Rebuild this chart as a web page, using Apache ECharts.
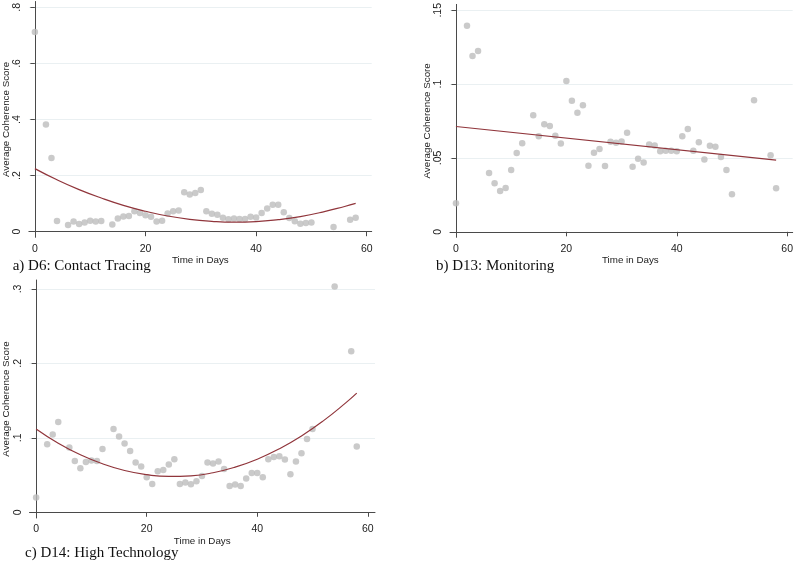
<!DOCTYPE html>
<html><head><meta charset="utf-8">
<script src="https://cdn.jsdelivr.net/npm/echarts@6/dist/echarts.min.js"></script>
<style>html,body{margin:0;padding:0;background:#fff}#c{width:796px;height:563px}</style>
</head><body><div id="c"></div>
<script>
// ---- data ----
const days = [0,2,3,4,6,7,8,9,10,11,12,14,15,16,17,18,19,20,21,22,23,24,25,26,27,28,29,30,31,32,33,34,35,36,37,38,39,40,41,42,43,44,45,46,47,48,49,50,54,57,58];

const contactTracing = [0.712,0.382,0.263,0.038,0.024,0.036,0.027,0.033,0.039,0.036,0.038,0.026,0.047,0.054,0.056,0.073,0.067,0.059,0.053,0.036,0.039,0.065,0.073,0.076,0.141,0.133,0.138,0.149,0.073,0.064,0.060,0.050,0.044,0.047,0.045,0.045,0.053,0.051,0.067,0.083,0.096,0.096,0.069,0.049,0.037,0.028,0.031,0.033,0.017,0.043,0.050];

const monitoring = [0.0193,0.1396,0.119,0.1225,0.0399,0.0328,0.0277,0.0297,0.0419,0.0534,0.060,0.0789,0.0647,0.0729,0.0716,0.0651,0.0598,0.1021,0.0888,0.0806,0.0857,0.0447,0.0536,0.0560,0.0445,0.0609,0.0603,0.0611,0.0671,0.0441,0.0494,0.047,0.0591,0.0585,0.0545,0.0549,0.0549,0.0545,0.0647,0.0696,0.0549,0.0607,0.049,0.0583,0.0576,0.0507,0.0419,0.0255,0.0891,0.0518,0.0295];

const highTech = [0.0197,0.0914,0.1043,0.1214,0.0869,0.069,0.0591,0.0676,0.0694,0.069,0.0851,0.112,0.1017,0.0923,0.0824,0.0667,0.0614,0.047,0.0381,0.0551,0.0569,0.064,0.0712,0.0381,0.0399,0.0376,0.0416,0.0488,0.0667,0.0654,0.0681,0.0582,0.0354,0.0372,0.0354,0.0452,0.0528,0.0528,0.047,0.0712,0.0743,0.0752,0.0708,0.0511,0.0681,0.0793,0.0985,0.112,0.3032,0.2163,0.0882];

// fitted curves
const fitDaysQ = [0,4,8,12,16,20,24,28,32,36,40,44,48,52,56,58];
const fitContactTracing = [0.225,0.185,0.150,0.120,0.094,0.073,0.056,0.044,0.037,0.034,0.036,0.043,0.054,0.070,0.090,0.101];
const fitHighTech = [0.112,0.0928,0.0773,0.0651,0.0561,0.0505,0.0481,0.0490,0.0531,0.0606,0.0713,0.0853,0.1025,0.1231,0.1469,0.160];
const fitDaysL = [0,58];
const fitMonitoring = [0.0713,0.0485];

// tick values / labels
const xTicks = [0,20,40,60];
const xTickLabels = ['0','20','40','60'];
const yTicksA = [0,0.2,0.4,0.6,0.8];
const yTickLabelsA = ['0','.2','.4','.6','.8'];
const yTicksB = [0,0.05,0.1,0.15];
const yTickLabelsB = ['0','.05','.1','.15'];
const yTicksC = [0,0.1,0.2,0.3];
const yTickLabelsC = ['0','.1','.2','.3'];
const captions = ['a) D6: Contact Tracing','b) D13: Monitoring','c) D14: High Technology'];

// ---- chart ----
const TXT = '#222';
const AX = '#4a4a4a';
const SANS = '"Liberation Sans", Arial, sans-serif';
const SERIF = '"Liberation Serif", "Times New Roman", serif';

function labelFor(ticks, labels){
  return v => { const i = ticks.findIndex(t => Math.abs(t - v) < 1e-9); return i >= 0 ? labels[i] : ''; };
}
function xAxisDef(gi, min, max, namePad){
  return {
    type:'value', gridIndex:gi, min:min, max:max,
    axisLine:{show:true, lineStyle:{color:AX, width:1}},
    axisTick:{show:true, length:4.5, customValues:xTicks, lineStyle:{color:AX}},
    axisLabel:{customValues:xTicks, formatter:labelFor(xTicks,xTickLabels), color:TXT, fontSize:10.5, fontFamily:SANS, margin:6},
    splitLine:{show:false},
    name:'Time in Days', nameLocation:'middle', nameGap:17,
    nameTextStyle:{color:TXT, fontSize:9.8, fontFamily:SANS, padding:namePad||0}
  };
}
function yAxisDef(gi, min, max, ticks, labels, nameGap){
  return {
    type:'value', gridIndex:gi, min:min, max:max,
    axisLine:{show:true, lineStyle:{color:AX, width:1}},
    axisTick:{show:true, length:4.5, customValues:ticks, lineStyle:{color:AX}},
    axisLabel:{customValues:ticks, formatter:labelFor(ticks,labels), rotate:90, color:TXT, fontSize:10.5, fontFamily:SANS, margin:6},
    splitLine:{show:true, customValues:ticks, lineStyle:{color:'#eaf0f2', width:1}},
    name:'Average Coherence Score', nameLocation:'middle', nameRotate:90, nameGap:nameGap,
    nameTextStyle:{color:TXT, fontSize:9.8, fontFamily:SANS}
  };
}
function pts(xs, ys){ return xs.map((x,i)=>[x, ys[i]]); }
function scatter(gi, ys){
  return {type:'scatter', xAxisIndex:gi, yAxisIndex:gi, data:pts(days, ys), symbolSize:6.5,
    itemStyle:{color:'#bdbdbd'}, silent:true, z:2};
}
function fit(gi, xs, ys){
  return {type:'line', xAxisIndex:gi, yAxisIndex:gi, data:pts(xs, ys), smooth:true, showSymbol:false,
    lineStyle:{color:'#90353b', width:1.2}, silent:true, z:3};
}

const chart = echarts.init(document.getElementById('c'), null, {renderer:'canvas'});
chart.setOption({
  animation:false,
  backgroundColor:'#ffffff',
  grid:[
    {left:26.7, top:0, width:345, height:237.3},
    {left:450, top:0, width:345, height:237.3},
    {left:28.3, top:280, width:346.7, height:238}
  ],
  xAxis:[
    xAxisDef(0, -1.08, 60.9),
    xAxisDef(1, -1.08, 61.0, [0,0,0,18]),
    xAxisDef(2, -1.2, 61.3)
  ],
  yAxis:[
    yAxisDef(0, -0.02, 0.821, yTicksA, yTickLabelsA, 17.5),
    yAxisDef(1, -0.00372, 0.154, yTicksB, yTickLabelsB, 17.5),
    yAxisDef(2, -0.0077, 0.312, yTicksC, yTickLabelsC, 18.5)
  ],
  series:[
    scatter(0, contactTracing), fit(0, fitDaysQ, fitContactTracing),
    scatter(1, monitoring), fit(1, fitDaysL, fitMonitoring),
    scatter(2, highTech), fit(2, fitDaysQ, fitHighTech)
  ],
  graphic:[
    {type:'text', left:12.7, top:259, style:{text:captions[0], fill:'#111', font:'15px ' + SERIF}},
    {type:'text', left:436, top:259, style:{text:captions[1], fill:'#111', font:'15px ' + SERIF}},
    {type:'text', left:25, top:546, style:{text:captions[2], fill:'#111', font:'15px ' + SERIF}}
  ]
});
</script>
</body></html>
